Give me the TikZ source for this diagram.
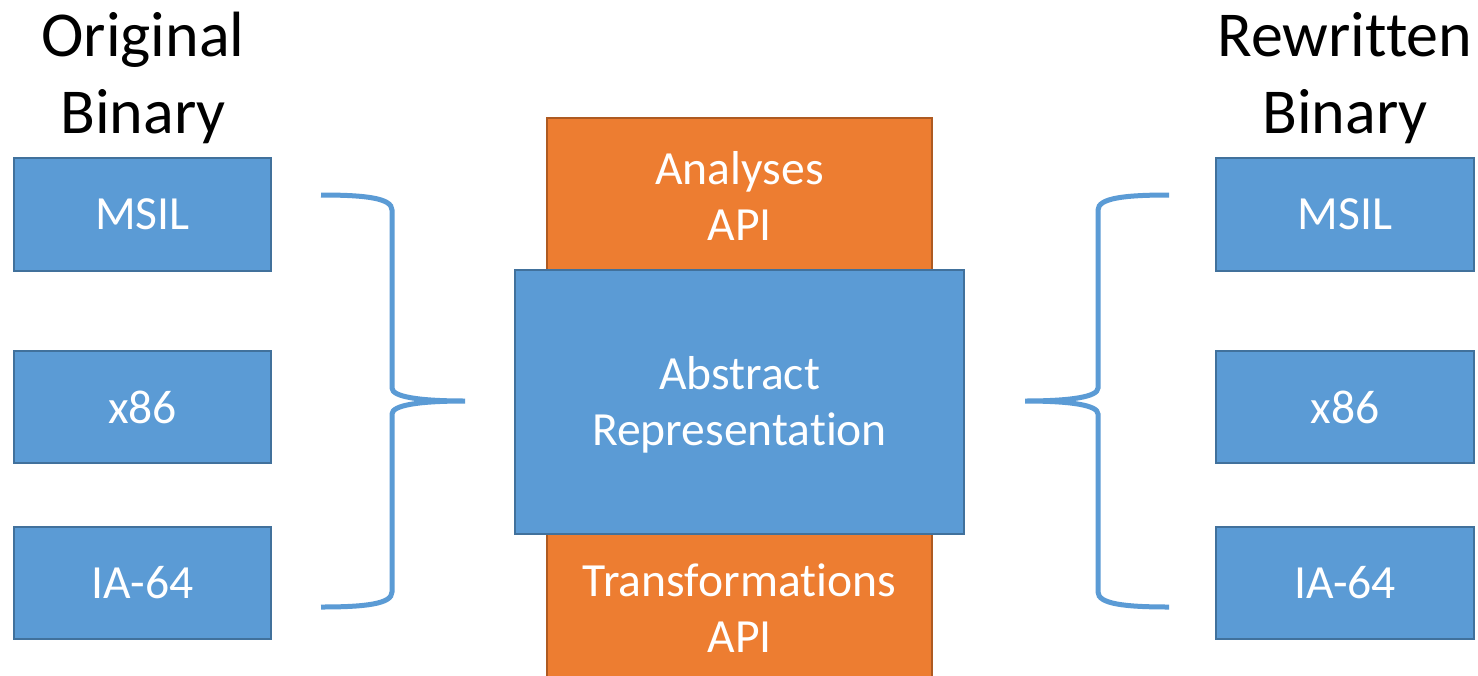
\documentclass[tikz,border=0pt]{standalone}
\usepackage{fontspec}
\setmainfont{Carlito}[RawFeature=-liga]
\definecolor{boxblue}{HTML}{5B9BD5}
\definecolor{boxblueline}{HTML}{41719C}
\definecolor{boxorange}{HTML}{ED7D31}
\definecolor{boxorangeline}{HTML}{AE5A21}
\begin{document}
\begin{tikzpicture}[x=0.5pt,y=-0.5pt,
  bluebox/.style={fill=boxblue,draw=boxblueline,line width=0.75pt},
  orangebox/.style={fill=boxorange,draw=boxorangeline,line width=0.75pt},
  boxtext/.style={text=white,align=center,inner sep=0pt,font=\fontsize{23.8}{28}\selectfont},
  title/.style={text=black,align=center,inner sep=0pt,font=\fontsize{32}{38.5}\selectfont},
  brace/.style={draw=boxblue,line width=2.5pt}]
\clip (0,0) rectangle (1478,675);
\fill[white] (0,0) rectangle (1478,675);
% left column
\draw[bluebox] (14,158) rectangle (271,271);
\draw[bluebox] (14,351) rectangle (271,463);
\draw[bluebox] (14,527) rectangle (271,639);
\node[boxtext] (lmsil) at (142.5,214.5) {MSIL};
\node[boxtext] (lx86) at (142.5,407) {x86};
\node[boxtext] (lia) at (142.5,583) {IA-64};
% right column
\draw[bluebox] (1216,158) rectangle (1474,271);
\draw[bluebox] (1216,351) rectangle (1474,463);
\draw[bluebox] (1216,527) rectangle (1474,639);
\node[boxtext] (rmsil) at (1345,214.5) {MSIL};
\node[boxtext] (rx86) at (1345,407) {x86};
\node[boxtext] (ria) at (1345,583) {IA-64};
% center
\draw[orangebox] (547,118) rectangle (932,271);
\draw[orangebox] (547,534) rectangle (932,685);
\draw[bluebox] (515,270) rectangle (964,534);
\node[boxtext] (ana) at (739.5,196) {Analyses\\API};
\node[boxtext] (abs) at (739.5,405) {Abstract\\Representation};
\node[boxtext] (tra) at (739.5,608) {Transformations\\API};
% titles
\node[title,anchor=base] (tl) at (143,133) {Original\\Binary};
\node[title,anchor=base] (tr) at (1345,133) {Rewritten\\Binary};
% braces
\coordinate (lt) at (465,401);
\coordinate (rt) at (1025,401);
\draw[brace] (321,195) .. controls (365,195) and (392,198) .. (392,210) -- (392,388)
  .. controls (392,397) and (420,401) .. (lt)
  .. controls (420,401) and (392,405) .. (392,414) -- (392,592)
  .. controls (392,604) and (365,607) .. (321,607);
\draw[brace] (1169,195) .. controls (1125,195) and (1098,198) .. (1098,210) -- (1098,388)
  .. controls (1098,397) and (1070,401) .. (rt)
  .. controls (1070,401) and (1098,405) .. (1098,414) -- (1098,592)
  .. controls (1098,604) and (1125,607) .. (1169,607);
\end{tikzpicture}
\end{document}
